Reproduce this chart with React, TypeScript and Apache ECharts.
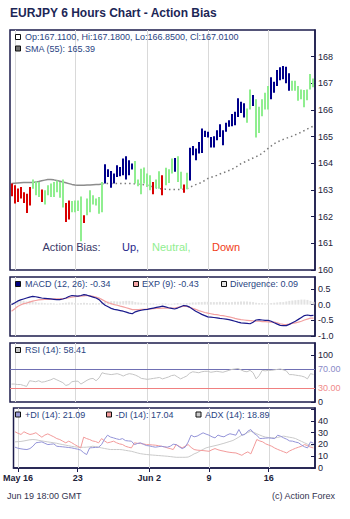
import React, { useEffect, useRef } from "react";
import * as echarts from "echarts";

// ---------- categories (6-hour bars) ----------
const tradingDays = [
  "May 16", "May 19", "May 20", "May 21", "May 22", "May 23",
  "May 26", "May 27", "May 28", "May 29", "May 30",
  "Jun 2", "Jun 3", "Jun 4", "Jun 5", "Jun 6",
  "Jun 9", "Jun 10", "Jun 11", "Jun 12", "Jun 13",
  "Jun 16", "Jun 17", "Jun 18", "Jun 19",
];
const barHours = ["00:00", "06:00", "12:00", "18:00"];
const categories: string[] = ["May 15 18:00"];
tradingDays.forEach((d) => barHours.forEach((h) => categories.push(d + " " + h)));

const xTickIdx = [1, 21, 45, 65, 85];
const xTickText = ["May 16", "23", "Jun 2", "9", "16"];

// ---------- price bars ----------
const highs = [
  163.24, 163.18, 163.06, 163.11, 162.92, 162.86, 163.11, 163.39, 163.33, 163.30,
  163.02, 162.99, 163.18, 163.24, 163.30, 163.36, 163.30, 163.39, 162.51, 162.61,
  162.59, 162.61, 162.61, 162.76, 162.05, 162.68, 162.99, 162.80, 162.68, 162.74,
  163.30, 163.97, 163.78, 163.71, 163.62, 163.93, 163.86, 164.18, 164.27, 164.12,
  163.99, 164.09, 163.39, 163.80, 163.84, 163.62, 163.55, 163.30, 163.39, 163.70,
  163.55, 163.83, 163.78, 164.18, 164.20, 164.27, 163.68, 163.21, 163.65, 164.58,
  164.65, 164.56, 164.80, 165.31, 165.22, 165.18, 164.99, 165.02, 165.24, 165.47,
  165.24, 165.52, 165.62, 165.85, 165.93, 166.44, 166.31, 166.25, 166.06, 166.77,
  166.56, 166.40, 166.12, 166.40, 166.65, 166.90, 167.23, 167.06, 167.50, 167.60,
  167.65, 167.62, 167.38, 167.10, 167.10, 166.90, 166.77, 166.75, 166.77, 167.35,
  167.18,
];
const lows = [
  162.77, 162.49, 162.55, 162.68, 162.51, 162.14, 162.42, 163.05, 162.80, 162.74,
  162.55, 162.46, 162.80, 162.74, 162.74, 162.92, 162.71, 162.34, 161.80, 161.89,
  162.17, 162.17, 162.21, 161.08, 161.76, 162.05, 162.17, 162.46, 162.42, 162.11,
  162.17, 163.24, 163.49, 163.08, 163.24, 163.49, 163.52, 163.55, 163.39, 163.55,
  163.77, 163.24, 163.14, 162.84, 163.24, 163.11, 162.99, 162.84, 163.07, 163.05,
  162.80, 163.18, 163.26, 163.62, 163.68, 163.30, 163.05, 162.90, 163.03, 163.36,
  164.30, 164.12, 164.37, 164.39, 164.99, 164.97, 164.59, 164.59, 164.87, 164.99,
  164.68, 165.18, 165.37, 165.39, 165.43, 165.74, 165.89, 165.72, 165.52, 166.02,
  166.15, 164.97, 165.14, 165.77, 166.02, 166.02, 166.40, 166.65, 166.90, 167.12,
  167.15, 167.00, 166.72, 166.72, 166.72, 166.35, 166.40, 166.10, 166.37, 166.77,
  166.85,
];
// u = Up, n = Neutral, d = Down
const bias = (
  "ddddddd nnn d nnnnnnn dd nnnn d nnnnnn uuuuuuuuuu nnnnnn d nn d nnn u nn d n " +
  "uuuuuuuuuuuuuuuuuuu nn u nnnnn uuuuuuu nnnnnnnn"
).replace(/ /g, "").split("");

const sma55 = [
  163.24, 163.25, 163.26, 163.27, 163.28, 163.28, 163.28, 163.28, 163.30, 163.32,
  163.35, 163.37, 163.39, 163.39, 163.38, 163.36, 163.33, 163.30, 163.27, 163.24,
  163.21, 163.19, 163.18, 163.18, 163.18, 163.19, 163.19, 163.20, 163.21, 163.21,
  163.23, 163.24, 163.24, 163.24, 163.24, 163.24, 163.24, 163.24, 163.24, 163.24,
  163.24, 163.23, 163.22, 163.21, 163.20, 163.18, 163.15, 163.11, 163.08, 163.05,
  163.04, 163.03, 163.02, 163.02, 163.02, 163.02, 163.02, 163.03, 163.05, 163.10,
  163.15, 163.20, 163.24, 163.29, 163.36, 163.43, 163.47, 163.51, 163.55, 163.60,
  163.64, 163.68, 163.73, 163.78, 163.84, 163.91, 163.99, 164.04, 164.09, 164.15,
  164.20, 164.25, 164.30, 164.38, 164.47, 164.56, 164.65, 164.74, 164.80, 164.85,
  164.90, 164.94, 164.98, 165.02, 165.07, 165.12, 165.17, 165.23, 165.29, 165.35,
  165.39,
];
const smaSolidEnd = 30;

// ---------- MACD ----------
const macd = [
  0.0, 0.05, 0.11, 0.15, 0.18, 0.21, 0.24, 0.26, 0.25, 0.23,
  0.21, 0.2, 0.19, 0.18, 0.17, 0.16, 0.16, 0.18, 0.21, 0.26,
  0.29, 0.28, 0.27, 0.29, 0.32, 0.3, 0.27, 0.24, 0.21, 0.16,
  0.06, -0.02, -0.07, -0.12, -0.15, -0.17, -0.19, -0.21, -0.24, -0.27,
  -0.29, -0.23, -0.2, -0.18, -0.16, -0.15, -0.13, -0.11, -0.09, -0.07,
  -0.05, -0.07, -0.1, -0.12, -0.14, -0.11, -0.07, -0.03, -0.04, -0.08,
  -0.15, -0.21, -0.26, -0.31, -0.35, -0.39, -0.4, -0.41, -0.42, -0.44,
  -0.45, -0.46, -0.48, -0.5, -0.53, -0.56, -0.58, -0.59, -0.6, -0.61,
  -0.56, -0.49, -0.48, -0.49, -0.5, -0.5, -0.53, -0.58, -0.62, -0.66,
  -0.67, -0.67, -0.63, -0.58, -0.53, -0.47, -0.41, -0.35, -0.33, -0.35,
  -0.34,
];
const macdSignal = [
  -0.21, -0.14, -0.06, -0.01, 0.03, 0.05, 0.08, 0.11, 0.13, 0.15,
  0.16, 0.17, 0.17, 0.17, 0.18, 0.18, 0.18, 0.19, 0.2, 0.22,
  0.24, 0.25, 0.26, 0.27, 0.28, 0.29, 0.28, 0.26, 0.24, 0.21,
  0.16, 0.11, 0.06, 0.03, 0.0, -0.02, -0.05, -0.07, -0.1, -0.13,
  -0.16, -0.16, -0.16, -0.15, -0.15, -0.14, -0.14, -0.13, -0.12, -0.12,
  -0.11, -0.11, -0.11, -0.11, -0.11, -0.09, -0.07, -0.05, -0.06, -0.09,
  -0.12, -0.15, -0.19, -0.22, -0.25, -0.27, -0.29, -0.31, -0.32, -0.34,
  -0.35, -0.37, -0.39, -0.41, -0.44, -0.46, -0.48, -0.49, -0.5, -0.51,
  -0.52, -0.53, -0.53, -0.54, -0.54, -0.55, -0.56, -0.56, -0.58, -0.61,
  -0.63, -0.64, -0.62, -0.6, -0.58, -0.56, -0.53, -0.49, -0.46, -0.43,
  -0.43,
];
const macdDivergence = [
  0.06, 0.08, 0.1, 0.12, 0.12, 0.1, 0.12, 0.1, 0.08, 0.06,
  0.06, 0.05, 0.04, 0.05, 0.04, 0.03, 0.04, 0.05, 0.06, 0.07,
  0.07, 0.05, 0.04, 0.05, 0.06, 0.05, 0.04, 0.05, 0.04, 0.05,
  0.08, 0.1, 0.1, 0.11, 0.11, 0.1, 0.1, 0.11, 0.12, 0.12,
  0.11, 0.08, 0.07, 0.06, 0.05, 0.05, 0.04, 0.04, 0.03, 0.03,
  0.04, 0.04, 0.03, 0.03, 0.04, 0.05, 0.04, 0.04, 0.05, 0.06,
  0.07, 0.07, 0.08, 0.08, 0.09, 0.09, 0.08, 0.08, 0.08, 0.09,
  0.08, 0.08, 0.07, 0.08, 0.09, 0.09, 0.1, 0.1, 0.1, 0.09,
  0.08, 0.06, 0.05, 0.05, 0.04, 0.05, 0.05, 0.06, 0.07, 0.08,
  0.08, 0.1, 0.12, 0.13, 0.14, 0.15, 0.16, 0.16, 0.15, 0.12,
  0.09,
];

// ---------- RSI ----------
const rsi14 = [
  38, 38, 37, 37, 35, 33, 45, 44, 43, 45,
  42, 43, 45, 47, 50, 47, 44, 41, 35, 37,
  43, 44, 44, 38, 42, 46, 49, 50, 45, 51,
  62, 60, 59, 58, 59, 60, 58, 55, 58, 60,
  59, 57, 54, 50, 49, 48, 49, 50, 51, 52,
  49, 51, 53, 56, 57, 53, 49, 52, 55, 61,
  64, 63, 62, 64, 65, 65, 63, 64, 65, 64,
  63, 65, 67, 69, 70, 71, 68, 65, 64, 67,
  62, 49, 56, 67, 66, 67, 67, 68, 69, 70,
  68, 66, 58, 58, 57, 56, 55, 53, 49, 60,
  58.41,
];

// ---------- DMI ----------
const plusDI = [
  17.7, 16.8, 16.3, 15.9, 15.7, 16.5, 18.5, 21.4, 21.8, 22.2,
  21.0, 19.9, 20.2, 20.5, 18.5, 18.2, 18.0, 17.7, 17.4, 17.1,
  16.5, 16.0, 15.2, 13.0, 11.4, 17.1, 17.3, 17.5, 17.7, 19.9,
  24.5, 27.9, 26.3, 25.6, 24.8, 24.2, 25.0, 23.3, 23.0, 22.8,
  19.9, 20.8, 21.4, 20.2, 19.1, 18.8, 18.2, 17.7, 18.1, 18.5,
  18.0, 17.7, 18.5, 20.2, 19.9, 18.0, 16.5, 17.7, 22.0, 27.9,
  26.5, 27.1, 28.5, 29.9, 28.8, 27.9, 26.5, 25.6, 28.0, 27.0,
  26.5, 28.0, 29.1, 28.5, 27.9, 32.7, 27.9, 28.5, 31.3, 32.7,
  29.5, 27.9, 25.0, 25.2, 25.4, 25.6, 25.3, 25.0, 27.9, 27.0,
  25.6, 24.5, 23.0, 22.8, 22.0, 21.4, 19.5, 18.0, 17.1, 22.2,
  21.09,
];
const minusDI = [
  30.8, 29.5, 28.5, 30.8, 29.5, 28.5, 29.0, 30.0, 28.0, 26.2,
  28.0, 29.0, 27.7, 26.5, 25.0, 24.2, 22.8, 21.4, 22.8, 21.5,
  19.9, 18.5, 17.1, 26.2, 25.0, 24.2, 23.0, 22.5, 21.4, 25.0,
  23.0, 21.4, 22.0, 22.8, 21.5, 20.5, 20.0, 18.5, 17.7, 17.1,
  21.4, 21.0, 20.8, 20.5, 19.9, 19.8, 19.6, 19.4, 19.0, 18.5,
  18.0, 17.1, 16.5, 15.7, 19.9, 18.5, 17.1, 18.5, 19.9, 17.5,
  15.7, 15.2, 15.0, 14.8, 14.5, 14.2, 15.5, 16.5, 15.5, 14.8,
  14.3, 13.7, 13.3, 13.0, 12.8, 11.8, 10.8, 12.5, 13.7, 12.0,
  18.0, 24.2, 23.0, 22.2, 20.5, 19.5, 18.5, 17.0, 15.8, 14.8,
  13.8, 12.8, 14.5, 15.7, 16.8, 17.7, 18.5, 19.9, 19.0, 17.7,
  17.04,
];
const adx = [
  22.2, 22.4, 22.6, 23.0, 23.5, 24.0, 24.2, 24.0, 23.5, 23.0,
  22.6, 22.2, 21.8, 21.4, 21.0, 20.4, 19.9, 19.4, 18.9, 18.4,
  18.0, 17.7, 17.6, 17.6, 17.7, 18.0, 18.5, 18.2, 17.6, 17.1,
  16.6, 16.1, 15.7, 15.7, 15.7, 15.7, 15.5, 15.0, 14.6, 14.2,
  13.5, 12.8, 12.2, 11.8, 11.5, 11.2, 11.0, 10.8, 10.6, 10.4,
  10.2, 10.0, 9.7, 9.4, 9.1, 9.1, 9.1, 9.1, 9.3, 10.5,
  12.0, 13.0, 14.5, 15.8, 17.1, 17.8, 18.4, 19.0, 19.6, 20.3,
  21.0, 21.8, 22.6, 23.4, 24.8, 26.3, 27.9, 29.0, 30.2, 31.3,
  30.3, 29.1, 28.0, 27.0, 26.2, 25.9, 25.7, 25.6, 26.0, 26.6,
  27.1, 26.6, 26.1, 25.7, 25.0, 23.8, 22.6, 21.4, 20.2, 18.9,
  18.89,
];

// ---------- styles ----------
const FONT = '"Liberation Sans", Arial, sans-serif';
const BORDER = "#1c1c4c";
const LABEL = "#22223a";
const LEGEND = "#2a4482";
const GRIDLINE = "#d9d9d9";
const barColors: Record<string, string> = { u: "#00008b", n: "#90ee90", d: "#d80000" };

const GRIDS = [
  { top: 30, height: 240 },
  { top: 277, height: 59 },
  { top: 343, height: 59 },
  { top: 408, height: 60 },
];
const Y_MIN = [160, -1, 0, 0];

export default function App() {
  const ref = useRef<HTMLDivElement>(null);

  useEffect(() => {
    document.body.style.margin = "0";
    if (!ref.current) return;
    const chart = echarts.init(ref.current, undefined, { renderer: "svg" });

    const grid = GRIDS.map((g) => ({
      left: 10,
      right: 35,
      top: g.top,
      height: g.height,
      show: true,
      borderColor: BORDER,
      borderWidth: 1.5,
      backgroundColor: "#ffffff",
    }));

    const xAxis = GRIDS.map((_, gi) => ({
      type: "category",
      gridIndex: gi,
      data: categories,
      boundaryGap: true,
      axisLine: { show: gi === 3, lineStyle: { color: BORDER, width: 1.5 } },
      axisTick: {
        show: gi === 3,
        alignWithLabel: true,
        length: 4,
        interval: (i: number) => xTickIdx.includes(i),
        lineStyle: { color: BORDER },
      },
      axisLabel: {
        show: gi === 3,
        interval: (i: number) => xTickIdx.includes(i),
        formatter: (_v: string, i: number) => {
          const k = xTickIdx.indexOf(i);
          return k >= 0 ? xTickText[k] : "";
        },
        fontFamily: FONT,
        fontSize: 9,
        fontWeight: "bold",
        color: LABEL,
        margin: 5,
      },
      splitLine: { show: false },
    }));

    const yCommon = (gi: number) => ({
      type: "value",
      gridIndex: gi,
      position: "right",
      scale: false,
      axisLine: { show: true, lineStyle: { color: BORDER, width: 1.5 } },
      axisTick: { show: true, inside: true, length: 4, lineStyle: { color: BORDER } },
      splitLine: { show: false },
      axisLabel: {
        fontFamily: FONT,
        fontSize: 9,
        color: LABEL,
        margin: 3,
        showMaxLabel: false,
      },
    });

    const yAxis = [
      { ...yCommon(0), min: 160, max: 169, interval: 1 },
      {
        ...yCommon(1),
        min: -1,
        max: 0.88,
        interval: 0.5,
        axisLabel: { ...yCommon(1).axisLabel, formatter: (v: number) => v.toFixed(1) },
      },
      { ...yCommon(2), min: 0, max: 125, interval: 100 },
      {
        ...yCommon(3),
        min: 0,
        max: 51,
        interval: 10,
        axisLabel: { ...yCommon(3).axisLabel, formatter: (v: number) => (v <= 40 ? String(v) : "") },
      },
    ];

    const gridLineSeries = GRIDS.map((_, gi) => ({
      type: "custom",
      xAxisIndex: gi,
      yAxisIndex: gi,
      z: 1,
      silent: true,
      data: xTickIdx.map((i) => [i, Y_MIN[gi]]),
      encode: { x: 0, y: 1 },
      renderItem: (params: any, api: any) => {
        const cs = params.coordSys;
        const x = Math.round(api.coord([api.value(0), Y_MIN[gi]])[0]) + 0.5;
        return {
          type: "line",
          shape: { x1: x, y1: cs.y, x2: x, y2: cs.y + cs.height },
          style: { stroke: GRIDLINE, lineWidth: 1 },
        };
      },
    }));

    const smaSolid = sma55.map((v, i) => (i <= smaSolidEnd ? v : null));
    const smaDotted = sma55.map((v, i) => (i >= smaSolidEnd ? v : null));

    const option: any = {
      animation: false,
      grid,
      xAxis,
      yAxis,
      series: [
        ...gridLineSeries,
        {
          type: "line",
          xAxisIndex: 0,
          yAxisIndex: 0,
          data: smaSolid,
          symbol: "none",
          z: 5,
          lineStyle: { color: "#8c8c8c", width: 1.5 },
        },
        {
          type: "line",
          xAxisIndex: 0,
          yAxisIndex: 0,
          data: smaDotted,
          symbol: "none",
          z: 5,
          lineStyle: { color: "#7a7a7a", width: 1.5, type: [1.5, 3] },
        },
        {
          type: "custom",
          xAxisIndex: 0,
          yAxisIndex: 0,
          z: 10,
          data: highs.map((h, i) => [i, lows[i], h]),
          encode: { x: 0, y: [1, 2] },
          renderItem: (params: any, api: any) => {
            const i = api.value(0);
            const lo = api.coord([i, api.value(1)]);
            const hi = api.coord([i, api.value(2)]);
            const h = Math.max(1, lo[1] - hi[1]);
            return {
              type: "rect",
              shape: { x: Math.round(lo[0]) - 1, y: hi[1], width: 2, height: h },
              style: { fill: barColors[bias[params.dataIndex]] },
            };
          },
        },
        {
          type: "bar",
          xAxisIndex: 1,
          yAxisIndex: 1,
          data: macdDivergence,
          barWidth: 2,
          z: 4,
          itemStyle: { color: "#e2e2e2" },
        },
        {
          type: "line",
          xAxisIndex: 1,
          yAxisIndex: 1,
          data: macdSignal,
          symbol: "none",
          z: 6,
          lineStyle: { color: "#f2a0a0", width: 1.2 },
        },
        {
          type: "line",
          xAxisIndex: 1,
          yAxisIndex: 1,
          data: macd,
          symbol: "none",
          z: 7,
          lineStyle: { color: "#1a1a8c", width: 1.2 },
        },
        {
          type: "line",
          xAxisIndex: 2,
          yAxisIndex: 2,
          data: rsi14,
          symbol: "none",
          z: 6,
          lineStyle: { color: "#c4c4c4", width: 1 },
          markLine: {
            silent: true,
            symbol: "none",
            animation: false,
            data: [
              {
                yAxis: 70,
                lineStyle: { color: "#7070b4", width: 1, type: "solid" },
                label: { formatter: "70.00", color: "#8a8ac8" },
              },
              {
                yAxis: 30,
                lineStyle: { color: "#f08080", width: 1, type: "solid" },
                label: { formatter: "30.00", color: "#f08a8a" },
              },
            ],
            label: { position: "end", distance: 3, fontFamily: FONT, fontSize: 9 },
          },
        },
        {
          type: "line",
          xAxisIndex: 3,
          yAxisIndex: 3,
          data: adx,
          symbol: "none",
          z: 5,
          lineStyle: { color: "#cacaca", width: 1 },
        },
        {
          type: "line",
          xAxisIndex: 3,
          yAxisIndex: 3,
          data: minusDI,
          symbol: "none",
          z: 6,
          lineStyle: { color: "#f29a9a", width: 1 },
        },
        {
          type: "line",
          xAxisIndex: 3,
          yAxisIndex: 3,
          data: plusDI,
          symbol: "none",
          z: 7,
          lineStyle: { color: "#9494d8", width: 1 },
        },
      ],
      graphic: [
        {
          type: "text",
          left: 10,
          top: 7,
          style: { text: "EURJPY 6 Hours Chart - Action Bias", font: "bold 12px " + FONT, fill: "#1c2656" },
        },
        // main legend
        { type: "rect", shape: { x: 15.5, y: 34.5, width: 5, height: 5 }, style: { fill: "#ffffff", stroke: "#111", lineWidth: 1 }, z: 20 },
        { type: "text", x: 25, y: 37, z: 20, style: { text: "Op:167.1100, Hi:167.1800, Lo:166.8500, Cl:167.0100", font: "9px " + FONT, fill: LEGEND, verticalAlign: "middle" } },
        { type: "rect", shape: { x: 15.5, y: 46, width: 5, height: 5 }, style: { fill: "#707070", stroke: "#111", lineWidth: 1 }, z: 20 },
        { type: "text", x: 25, y: 48.5, z: 20, style: { text: "SMA (55): 165.39", font: "9px " + FONT, fill: LEGEND, verticalAlign: "middle" } },
        // action bias
        { type: "text", x: 42.5, y: 247, z: 20, style: { text: "Action Bias:", font: "11px " + FONT, fill: "#3a3a6a", verticalAlign: "middle" } },
        { type: "text", x: 122, y: 247, z: 20, style: { text: "Up,", font: "11px " + FONT, fill: "#26268a", verticalAlign: "middle" } },
        { type: "text", x: 152, y: 247, z: 20, style: { text: "Neutral,", font: "11px " + FONT, fill: "#90ee90", verticalAlign: "middle" } },
        { type: "text", x: 212, y: 247, z: 20, style: { text: "Down", font: "11px " + FONT, fill: "#f04018", verticalAlign: "middle" } },
        // MACD legend
        { type: "rect", shape: { x: 15.5, y: 281.5, width: 5, height: 5 }, style: { fill: "#000080", stroke: "#111", lineWidth: 1 }, z: 20 },
        { type: "text", x: 25, y: 284, z: 20, style: { text: "MACD (12, 26): -0.34", font: "9px " + FONT, fill: LEGEND, verticalAlign: "middle" } },
        { type: "rect", shape: { x: 133.5, y: 281.5, width: 5, height: 5 }, style: { fill: "#f4a4a4", stroke: "#111", lineWidth: 1 }, z: 20 },
        { type: "text", x: 142, y: 284, z: 20, style: { text: "EXP (9): -0.43", font: "9px " + FONT, fill: LEGEND, verticalAlign: "middle" } },
        { type: "rect", shape: { x: 221.5, y: 281.5, width: 5, height: 5 }, style: { fill: "#e4e4e4", stroke: "#111", lineWidth: 1 }, z: 20 },
        { type: "text", x: 230, y: 284, z: 20, style: { text: "Divergence: 0.09", font: "9px " + FONT, fill: LEGEND, verticalAlign: "middle" } },
        // RSI legend
        { type: "rect", shape: { x: 15.5, y: 347.5, width: 5, height: 5 }, style: { fill: "#c4c4c4", stroke: "#111", lineWidth: 1 }, z: 20 },
        { type: "text", x: 25, y: 350, z: 20, style: { text: "RSI (14): 58.41", font: "9px " + FONT, fill: LEGEND, verticalAlign: "middle" } },
        // DMI legend
        { type: "rect", shape: { x: 15.5, y: 412, width: 5, height: 5 }, style: { fill: "#9a9ad8", stroke: "#111", lineWidth: 1 }, z: 20 },
        { type: "text", x: 25, y: 414.5, z: 20, style: { text: "+DI (14): 21.09", font: "9px " + FONT, fill: LEGEND, verticalAlign: "middle" } },
        { type: "rect", shape: { x: 106.5, y: 412, width: 5, height: 5 }, style: { fill: "#f29a9a", stroke: "#111", lineWidth: 1 }, z: 20 },
        { type: "text", x: 115.5, y: 414.5, z: 20, style: { text: "-DI (14): 17.04", font: "9px " + FONT, fill: LEGEND, verticalAlign: "middle" } },
        { type: "rect", shape: { x: 196, y: 412, width: 5, height: 5 }, style: { fill: "#cacaca", stroke: "#111", lineWidth: 1 }, z: 20 },
        { type: "text", x: 205, y: 414.5, z: 20, style: { text: "ADX (14): 18.89", font: "9px " + FONT, fill: LEGEND, verticalAlign: "middle" } },
        // footer
        { type: "text", x: 7, y: 496, style: { text: "Jun 19 18:00 GMT", font: "9px " + FONT, fill: "#33334f", verticalAlign: "middle" } },
        { type: "text", x: 335, y: 496, style: { text: "(c) Action Forex", font: "9px " + FONT, fill: "#33334f", verticalAlign: "middle", align: "right" } },
      ],
    };

    chart.setOption(option);
    return () => chart.dispose();
  }, []);

  return <div ref={ref} style={{ width: 350, height: 519 }} />;
}
